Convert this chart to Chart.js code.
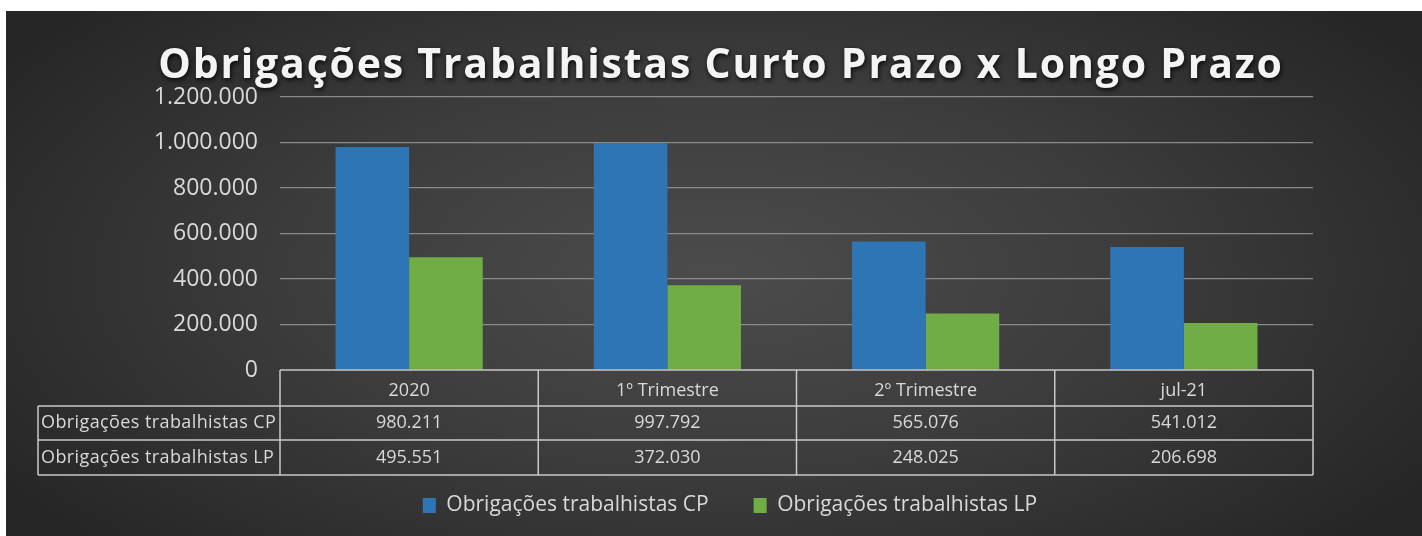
<!DOCTYPE html>
<html>
<head>
<meta charset="utf-8">
<script src="https://cdn.jsdelivr.net/npm/chart.js@4.4.0/dist/chart.umd.min.js"></script>
<style>
  html, body { margin: 0; padding: 0; background: #fff; }
  #wrap {
    position: absolute; left: 6px; top: 11px; width: 1416px; height: 525px;
    background: radial-gradient(ellipse 60% 75% at 50% 50%, #4c4c4c 0%, #3c3c3c 50%, #262626 100%);
  }
</style>
</head>
<body>
<div id="wrap"><canvas id="chart"></canvas></div>
<script>
const titleText = 'Obrigações Trabalhistas Curto Prazo x Longo Prazo';
const categories = ['2020', '1º Trimestre', '2º Trimestre', 'jul-21'];
const seriesNames = ['Obrigações trabalhistas CP', 'Obrigações trabalhistas LP'];
const cpValues = [980211, 997792, 565076, 541012];
const lpValues = [495551, 372030, 248025, 206698];
const yTicks = [0, 200000, 400000, 600000, 800000, 1000000, 1200000];

const textColor = '#d9d9d9';
const lineColor = '#c8c8c8';

// 1234567 -> 1.234.567
const fmt = v => String(v).replace(/\B(?=(\d{3})+(?!\d))/g, '.');

const titlePlugin = {
  id: 'bigTitle',
  afterDraw(chart) {
    const ctx = chart.ctx;
    ctx.save();
    ctx.font = 'bold 41px "Open Sans"';
    ctx.letterSpacing = '1.8px';
    ctx.textAlign = 'center';
    ctx.textBaseline = 'alphabetic';
    ctx.shadowColor = 'rgba(0,0,0,0.85)';
    ctx.shadowBlur = 5;
    ctx.shadowOffsetX = 1;
    ctx.shadowOffsetY = 2;
    ctx.fillStyle = '#f4f4f4';
    ctx.fillText(titleText, 715, 67);
    ctx.restore();
  }
};

const tablePlugin = {
  id: 'dataTable',
  afterDraw(chart) {
    const { ctx, scales: { x }, chartArea } = chart;
    const colW = (x.right - x.left) / categories.length;
    const top = chartArea.bottom;
    const r1 = top + 36, r2 = r1 + 34, r3 = r2 + 35;
    const labelLeft = 32;
    const rows = [cpValues, lpValues];

    ctx.save();
    ctx.strokeStyle = lineColor;
    ctx.lineWidth = 1.5;
    ctx.beginPath();
    // header row only spans the plot columns
    ctx.moveTo(x.left, top); ctx.lineTo(x.right, top);
    ctx.moveTo(labelLeft, r1); ctx.lineTo(x.right, r1);
    ctx.moveTo(labelLeft, r2); ctx.lineTo(x.right, r2);
    ctx.moveTo(labelLeft, r3); ctx.lineTo(x.right, r3);
    ctx.moveTo(labelLeft, r1); ctx.lineTo(labelLeft, r3);
    for (let i = 0; i <= categories.length; i++) {
      const cx = x.left + i * colW;
      ctx.moveTo(cx, top); ctx.lineTo(cx, r3);
    }
    ctx.stroke();

    ctx.fillStyle = textColor;
    ctx.textBaseline = 'middle';
    ctx.font = '18px "Open Sans"';
    ctx.letterSpacing = '0.4px';
    ctx.textAlign = 'left';
    ctx.fillText(seriesNames[0], labelLeft + 3, (r1 + r2) / 2);
    ctx.fillText(seriesNames[1], labelLeft + 3, (r2 + r3) / 2);

    ctx.letterSpacing = '0px';
    ctx.textAlign = 'center';
    categories.forEach((c, i) => {
      const cx = x.getPixelForValue(i);
      ctx.fillText(fmt(rows[0][i]), cx, (r1 + r2) / 2);
      ctx.fillText(fmt(rows[1][i]), cx, (r2 + r3) / 2);
    });
    ctx.restore();
  }
};

new Chart(document.getElementById('chart'), {
  type: 'bar',
  data: {
    labels: categories,
    datasets: [
      { label: seriesNames[0], data: cpValues, backgroundColor: '#2e75b6' },
      { label: seriesNames[1], data: lpValues, backgroundColor: '#70ad47' }
    ]
  },
  options: {
    responsive: true,
    maintainAspectRatio: false,
    animation: false,
    categoryPercentage: 0.57,
    barPercentage: 1,
    layout: { padding: { left: 141, right: 109, top: 86, bottom: 10 } },
    plugins: {
      title: { display: false },
      tooltip: { enabled: false },
      legend: {
        position: 'bottom',
        labels: {
          color: textColor,
          font: { family: 'Open Sans', size: 21 },
          boxWidth: 13,
          boxHeight: 15,
          padding: 45
        }
      }
    },
    scales: {
      x: {
        grid: { display: false },
        border: { display: false },
        ticks: { color: textColor, font: { family: 'Open Sans', size: 18 }, padding: 2 },
        afterFit: s => { s.height = 80; }
      },
      y: {
        min: 0,
        max: 1200000,
        afterBuildTicks: s => { s.ticks = yTicks.map(v => ({ value: v })); },
        grid: {
          color: c => (c.tick && c.tick.value === 0) ? 'rgba(0,0,0,0)' : '#8a8a8a',
          lineWidth: 1.2,
          drawTicks: false
        },
        border: { display: false },
        ticks: {
          color: textColor,
          font: { family: 'Open Sans', size: 23 },
          padding: 22,
          callback: v => fmt(v)
        },
        afterFit: s => { s.width = 133; }
      }
    }
  },
  plugins: [titlePlugin, tablePlugin]
});
</script>
</body>
</html>
